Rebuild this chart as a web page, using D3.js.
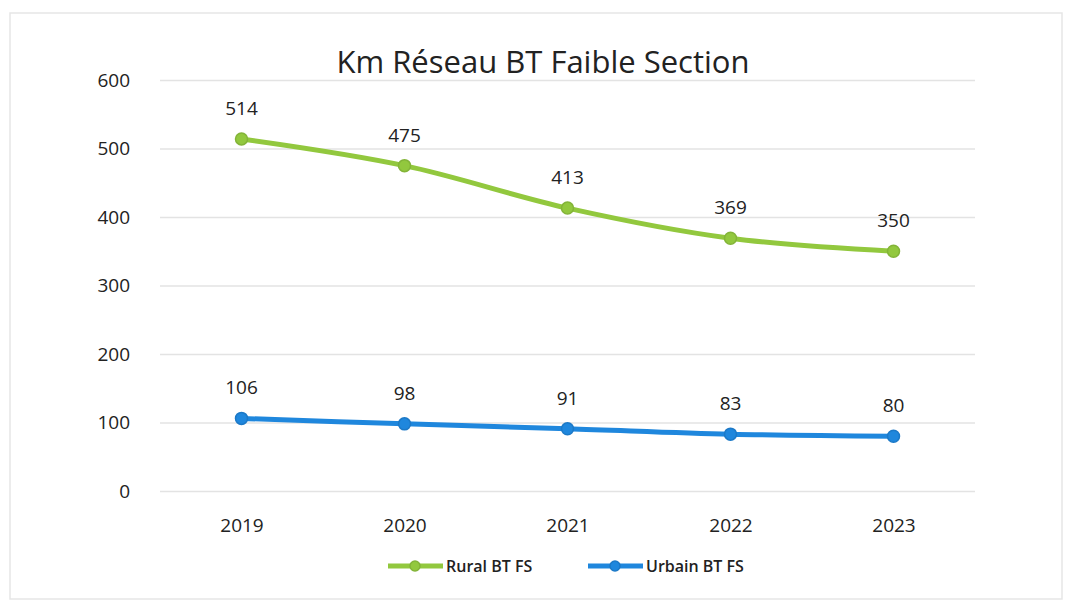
<!DOCTYPE html>
<html>
<head>
<meta charset="UTF-8">
<title>Km Réseau BT Faible Section</title>
<script src="https://cdn.jsdelivr.net/npm/d3@7"></script>
<style>
  body { margin: 0; background: #fff; }
  svg text { font-family: "Open Sans", "Noto Sans", sans-serif; fill: #222; }
  .grid line { stroke: #e3e3e3; stroke-width: 1.5; }
  .grid path { display: none; }
  .axis path, .axis line { display: none; }
</style>
</head>
<body>
<svg width="1072" height="603"></svg>
<script>
// data
var years = ["2019", "2020", "2021", "2022", "2023"];
var rural = [514, 475, 413, 369, 350];
var urbain = [106, 98, 91, 83, 80];
var yTicks = [0, 100, 200, 300, 400, 500, 600];
var seriesNames = ["Rural BT FS", "Urbain BT FS"];
var colors = ["#92c83e", "#1f87dd"];

var svg = d3.select("svg"),
    margin = {top: 80, right: 97, bottom: 112, left: 160},
    width = +svg.attr("width") - margin.left - margin.right,
    height = +svg.attr("height") - margin.top - margin.bottom;

// chart frame
svg.append("rect")
    .attr("x", 10).attr("y", 13)
    .attr("width", 1052).attr("height", 586)
    .attr("fill", "none")
    .attr("stroke", "#e6e6e6")
    .attr("stroke-width", 1.5);

svg.append("text")
    .attr("x", 543).attr("y", 73)
    .attr("text-anchor", "middle")
    .style("font-size", "31px")
    .style("font-weight", "500")
    .text("Km Réseau BT Faible Section");

var g = svg.append("g")
    .attr("transform", "translate(" + margin.left + "," + margin.top + ")");

var x = d3.scalePoint().domain(years).range([0, width]).padding(0.5),
    y = d3.scaleLinear().domain([0, 600]).range([height, 0]);

g.append("g")
    .attr("class", "grid")
    .call(d3.axisLeft(y).tickValues(yTicks).tickSize(-width).tickFormat(""));

g.append("g")
    .attr("class", "axis")
    .call(d3.axisLeft(y).tickValues(yTicks).tickPadding(24))
    .selectAll("text")
    .style("font-size", "19px");

g.append("g")
    .attr("class", "axis")
    .attr("transform", "translate(0," + height + ")")
    .call(d3.axisBottom(x).tickPadding(22))
    .selectAll("text")
    .style("font-size", "19px");

var line = d3.line()
    .x(function(d, i) { return x(years[i]); })
    .y(function(d) { return y(d); })
    .curve(d3.curveCatmullRom);

[rural, urbain].forEach(function(values, k) {
  g.append("path")
      .datum(values)
      .attr("fill", "none")
      .attr("stroke", colors[k])
      .attr("stroke-width", 5)
      .attr("stroke-linecap", "round")
      .attr("d", line);

  g.selectAll(".pt" + k)
    .data(values)
    .enter().append("circle")
      .attr("cx", function(d, i) { return x(years[i]); })
      .attr("cy", function(d) { return y(d); })
      .attr("r", 6)
      .attr("fill", colors[k])
      .attr("stroke", d3.color(colors[k]).darker(0.3))
      .attr("stroke-width", 1.5);

  g.selectAll(".lbl" + k)
    .data(values)
    .enter().append("text")
      .attr("x", function(d, i) { return x(years[i]); })
      .attr("y", function(d) { return y(d) - 24; })
      .attr("text-anchor", "middle")
      .style("font-size", "19px")
      .text(function(d) { return d; });
});

// legend
var legendX = [388, 588];
seriesNames.forEach(function(name, k) {
  var lg = svg.append("g").attr("transform", "translate(" + legendX[k] + ",566)");
  lg.append("line")
      .attr("x1", 0).attr("x2", 55)
      .attr("stroke", colors[k]).attr("stroke-width", 5);
  lg.append("circle")
      .attr("cx", 27).attr("r", 5)
      .attr("fill", colors[k])
      .attr("stroke", d3.color(colors[k]).darker(0.3))
      .attr("stroke-width", 1.5);
  lg.append("text")
      .attr("x", 58).attr("y", 6)
      .style("font-size", "16px")
      .style("font-weight", "600")
      .text(name);
});
</script>
</body>
</html>
